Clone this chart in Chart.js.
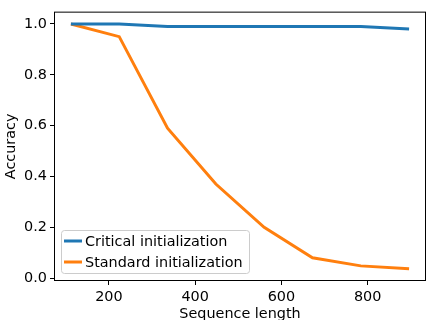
<!DOCTYPE html>
<html>
<head>
<meta charset="utf-8">
<script src="https://cdn.jsdelivr.net/npm/chart.js@4"></script>
<style>
  html, body { margin: 0; padding: 0; background: #fff; }
  #wrap { width: 427px; height: 320px; }
</style>
</head>
<body>
<div id="wrap"><canvas id="chart" width="427" height="320"></canvas></div>
<script>
// sequence lengths and accuracies
const seqLengths = [112, 224, 336, 448, 560, 672, 784, 896];
const criticalAcc = [1.0, 1.0, 0.99, 0.99, 0.99, 0.99, 0.99, 0.98];
const standardAcc = [1.0, 0.95, 0.59, 0.37, 0.20, 0.08, 0.048, 0.037];
const xTicks = [200, 400, 600, 800];
const yTicks = [0.0, 0.2, 0.4, 0.6, 0.8, 1.0];

const FONT = { family: 'DejaVu Sans', size: 14.4 };

// box around the plot + legend inside at lower left
const framePlugin = {
    id: 'frame',
    afterDraw(chart) {
        const { ctx, chartArea: a } = chart;
        ctx.save();
        ctx.strokeStyle = '#000';
        ctx.lineWidth = 1;
        ctx.strokeRect(a.left + 0.5, a.top + 0.5, a.right - a.left - 1, a.bottom - a.top - 1);

        // legend
        const x0 = a.left + 7, y0 = a.bottom - 51;
        ctx.fillStyle = 'rgba(255,255,255,0.8)';
        ctx.strokeStyle = '#ccc';
        ctx.beginPath();
        ctx.roundRect(x0 + 0.5, y0 + 0.5, 188, 43, 3);
        ctx.fill();
        ctx.stroke();
        ctx.font = '14.4px "DejaVu Sans"';
        ctx.textBaseline = 'middle';
        chart.data.datasets.forEach((ds, i) => {
            const ly = y0 + 11 + i * 21;
            ctx.strokeStyle = ds.borderColor;
            ctx.lineWidth = 3;
            ctx.beginPath();
            ctx.moveTo(x0 + 3, ly);
            ctx.lineTo(x0 + 21, ly);
            ctx.stroke();
            ctx.fillStyle = '#000';
            ctx.fillText(ds.label, x0 + 24, ly + 1);
        });
        ctx.restore();
    }
};

const keepTicks = list => scale => {
    scale.ticks = list.map(v => ({ value: v }));
};

new Chart(document.getElementById('chart'), {
    type: 'line',
    data: {
        labels: seqLengths,
        datasets: [
            {
                label: 'Critical initialization',
                data: seqLengths.map((x, i) => ({ x, y: criticalAcc[i] })),
                borderColor: '#1f77b4',
                borderWidth: 3,
                pointRadius: 0,
                tension: 0
            },
            {
                label: 'Standard initialization',
                data: seqLengths.map((x, i) => ({ x, y: standardAcc[i] })),
                borderColor: '#ff7f0e',
                borderWidth: 3,
                pointRadius: 0,
                tension: 0
            }
        ]
    },
    options: {
        responsive: false,
        animation: false,
        layout: { padding: { left: 0, top: 4, right: 1, bottom: 0 } },
        plugins: { legend: { display: false }, tooltip: { enabled: false } },
        scales: {
            x: {
                type: 'linear',
                min: 72.8,
                max: 935.2,
                afterBuildTicks: keepTicks(xTicks),
                afterFit(s) { s.height = 39; },
                grid: { drawOnChartArea: false, color: '#000', tickLength: 4, tickWidth: 1 },
                border: { display: false },
                ticks: { color: '#000', font: FONT, padding: 4, maxRotation: 0 },
                title: { display: true, text: 'Sequence length', color: '#000', font: FONT, padding: { top: 0, bottom: -3 } }
            },
            y: {
                min: -0.0115,
                max: 1.0485,
                afterBuildTicks: keepTicks(yTicks),
                afterFit(s) { s.width = 54; },
                grid: { drawOnChartArea: false, color: '#000', tickLength: 4, tickWidth: 1 },
                border: { display: false },
                ticks: { color: '#000', font: FONT, padding: 3, callback: v => v.toFixed(1) },
                title: { display: true, text: 'Accuracy', color: '#000', font: FONT, padding: { top: 3, bottom: 0 } }
            }
        }
    },
    plugins: [framePlugin]
});
</script>
</body>
</html>
